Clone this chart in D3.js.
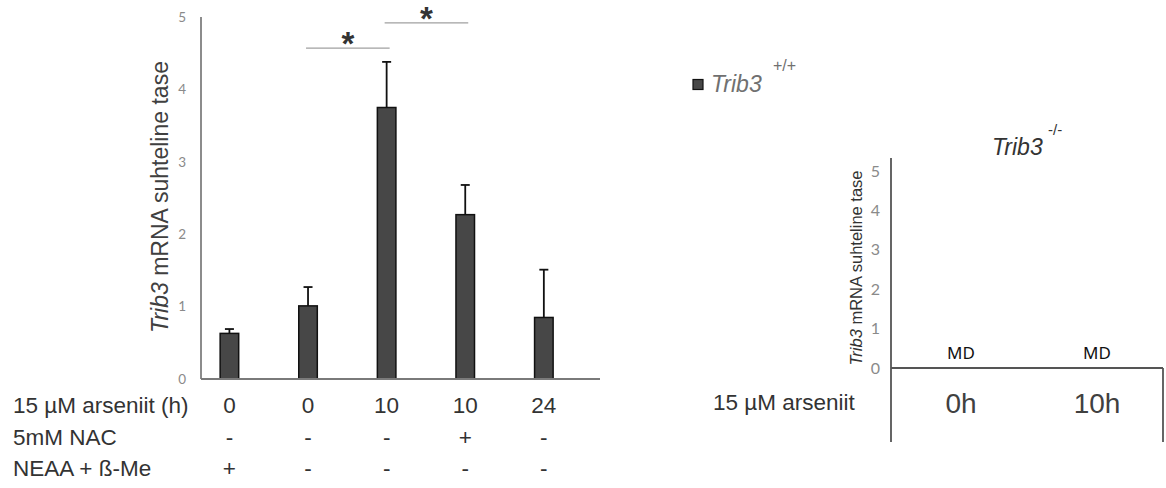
<!DOCTYPE html>
<html>
<head>
<meta charset="utf-8">
<script src="https://cdn.jsdelivr.net/npm/d3@7"></script>
<style>
  body { margin: 0; background: #fff; }
  svg { display: block; font-family: "Liberation Sans", Arial, sans-serif; }
</style>
</head>
<body>
<svg id="chart" width="1166" height="488"></svg>
<script>
// data
const groups = ["g1", "g2", "g3", "g4", "g5"];
const means = [0.63, 1.01, 3.75, 2.27, 0.85];
const errors = [0.06, 0.26, 0.63, 0.41, 0.66];
const arsenite = ["0", "0", "10", "10", "24"];
const nac = ["-", "-", "-", "+", "-"];
const neaa = ["+", "-", "-", "-", "-"];
const rowLabels = ["15 µM arseniit (h)", "5mM NAC", "NEAA + ß-Me"];
const yTicks = [0, 1, 2, 3, 4, 5];
// significance brackets: from group, to group, height (in y units)
const sigFrom = [1, 2];
const sigTo = [2, 3];
const sigLevel = [4.57, 4.92];

const koGroups = ["0h", "10h"];
const koLabels = ["MD", "MD"];

const svg = d3.select("#chart");

// ---------- left chart (Trib3 +/+) ----------
const y = d3.scaleLinear().domain([0, 5]).range([379, 17]);
const x = d3.scaleBand().domain(groups).range([201, 600])
    .paddingInner(0.764).paddingOuter(0.42).align(0.29);
const cx = d => x(d) + x.bandwidth() / 2;

const left = svg.append("g");

left.append("g")
    .attr("transform", "translate(201,0)")
    .call(d3.axisLeft(y).tickValues(yTicks).tickFormat(d3.format("d")).tickSize(0).tickPadding(15))
    .call(g => g.select(".domain").remove())
    .selectAll("text")
    .attr("font-family", "Lato, sans-serif").attr("font-size", 13.5).attr("fill", "#8a8a8a");

left.append("line").attr("x1", 201).attr("x2", 201).attr("y1", y(5)).attr("y2", y(0))
    .attr("stroke", "#666").attr("stroke-width", 1.5);

left.selectAll(".bar").data(groups).enter().append("rect")
    .attr("class", "bar")
    .attr("x", d => x(d))
    .attr("width", x.bandwidth())
    .attr("y", (d, i) => y(means[i]))
    .attr("height", (d, i) => y(0) - y(means[i]))
    .attr("fill", "#474747").attr("stroke", "#111").attr("stroke-width", 1.5);

const err = left.selectAll(".err").data(groups).enter().append("g").attr("class", "err");
err.append("line")
    .attr("x1", d => cx(d)).attr("x2", d => cx(d))
    .attr("y1", (d, i) => y(means[i])).attr("y2", (d, i) => y(means[i] + errors[i]))
    .attr("stroke", "#111").attr("stroke-width", 1.8);
err.append("line")
    .attr("x1", d => cx(d) - 4.5).attr("x2", d => cx(d) + 4.5)
    .attr("y1", (d, i) => y(means[i] + errors[i])).attr("y2", (d, i) => y(means[i] + errors[i]))
    .attr("stroke", "#111").attr("stroke-width", 1.8);

left.append("line").attr("x1", 201).attr("x2", 600).attr("y1", y(0)).attr("y2", y(0))
    .attr("stroke", "#7a7a7a").attr("stroke-width", 1.8);

// significance
sigFrom.forEach((f, i) => {
    const x1 = cx(groups[f]) - 2, x2 = cx(groups[sigTo[i]]) + 3;
    left.append("line").attr("x1", x1).attr("x2", x2)
        .attr("y1", y(sigLevel[i])).attr("y2", y(sigLevel[i]))
        .attr("stroke", "#a0a0a0").attr("stroke-width", 1.2);
    left.append("text").attr("x", (x1 + x2) / 2).attr("y", y(sigLevel[i]) + 7)
        .attr("text-anchor", "middle").attr("font-size", 33).attr("font-weight", "bold")
        .attr("fill", "#333").text("*");
});

// y title
const yt = left.append("text")
    .attr("transform", "translate(168,197) rotate(-90)")
    .attr("text-anchor", "middle").attr("font-size", 23).attr("fill", "#404040");
yt.append("tspan").attr("font-style", "italic").text("Trib3");
yt.append("tspan").text(" mRNA suhteline tase");

// condition table
const rows = [arsenite, nac, neaa];
const rowY = [413, 445, 476];
rows.forEach((r, ri) => {
    left.append("text").attr("x", 13).attr("y", rowY[ri])
        .attr("font-size", 22.5).attr("fill", "#333").text(rowLabels[ri]);
    left.selectAll(null).data(groups).enter().append("text")
        .attr("x", d => cx(d)).attr("y", rowY[ri])
        .attr("text-anchor", "middle").attr("font-size", 22.5).attr("fill", "#333")
        .text((d, i) => r[i]);
});

// legend
const leg = svg.append("g");
leg.append("rect").attr("x", 693).attr("y", 79.5).attr("width", 10).attr("height", 10)
    .attr("fill", "#474747").attr("stroke", "#111").attr("stroke-width", 1.2);
leg.append("text").attr("x", 711).attr("y", 92).attr("font-size", 23)
    .attr("font-style", "italic").attr("fill", "#707070").text("Trib3");
leg.append("text").attr("x", 773).attr("y", 71).attr("font-size", 16)
    .attr("fill", "#707070").text("+/+");

// ---------- right chart (Trib3 -/-) ----------
const y2 = d3.scaleLinear().domain([0, 5]).range([368, 171]);
const x2 = d3.scaleBand().domain(koGroups).range([891, 1163]);
const cx2 = d => x2(d) + x2.bandwidth() / 2;
const right = svg.append("g");

right.append("g")
    .attr("transform", "translate(891,0)")
    .call(d3.axisLeft(y2).tickValues(yTicks).tickFormat(d3.format("d")).tickSize(0).tickPadding(11))
    .call(g => g.select(".domain").remove())
    .selectAll("text")
    .attr("font-family", "Lato, sans-serif").attr("font-size", 16).attr("fill", "#8a8a8a");

right.append("line").attr("x1", 891).attr("x2", 891).attr("y1", 158).attr("y2", 442)
    .attr("stroke", "#555").attr("stroke-width", 1.8);
right.append("line").attr("x1", 891).attr("x2", 1163).attr("y1", y2(0)).attr("y2", y2(0))
    .attr("stroke", "#555").attr("stroke-width", 1.8);
right.append("line").attr("x1", 1163).attr("x2", 1163).attr("y1", y2(0)).attr("y2", 442)
    .attr("stroke", "#555").attr("stroke-width", 1.8);

right.selectAll(".md").data(koGroups).enter().append("text")
    .attr("x", d => cx2(d) + 2).attr("y", y2(0) - 9)
    .attr("text-anchor", "middle").attr("font-family", "Noto Sans, sans-serif")
    .attr("font-size", 17).attr("fill", "#111").text((d, i) => koLabels[i]);

right.selectAll(".cat").data(koGroups).enter().append("text")
    .attr("x", d => cx2(d) + 2).attr("y", 413)
    .attr("text-anchor", "middle").attr("font-size", 28).attr("fill", "#404040").text(d => d);

right.append("text").attr("x", 713).attr("y", 410).attr("font-size", 22.5)
    .attr("fill", "#333").text("15 µM arseniit");

const yt2 = right.append("text")
    .attr("transform", "translate(862,268) rotate(-90)")
    .attr("text-anchor", "middle").attr("font-size", 16.5).attr("fill", "#333");
yt2.append("tspan").attr("font-style", "italic").text("Trib3");
yt2.append("tspan").text(" mRNA suhteline tase");

right.append("text").attr("x", 992).attr("y", 155).attr("font-size", 23)
    .attr("font-style", "italic").attr("fill", "#333").text("Trib3");
right.append("text").attr("x", 1048).attr("y", 135).attr("font-size", 15)
    .attr("fill", "#333").text("-/-");
</script>
</body>
</html>
